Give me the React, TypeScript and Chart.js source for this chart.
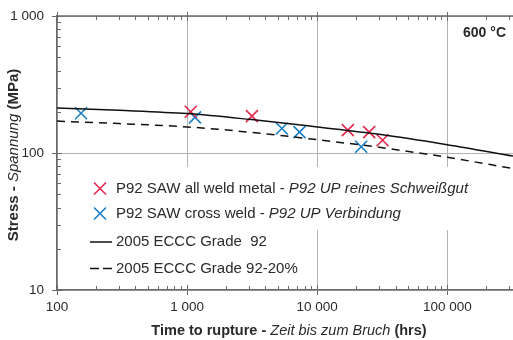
import React, { useEffect, useRef } from 'react';
import { Chart, registerables } from 'chart.js';

Chart.register(...registerables);

const FONT = "'Liberation Sans', Arial, Helvetica, sans-serif";

// ECCC curves (time in hours, stress in MPa)
const curveTimes = [100, 300, 1000, 3000, 10000, 30000, 100000, 320000];
const eccc92Stress = [213, 205, 194, 176, 155, 137, 115, 95];
const eccc92Minus20Stress = [171, 164, 155, 142, 125, 110, 93, 77];

// test data
const allWeldTimes = [1067, 3150, 17200, 25100, 31800];
const allWeldStress = [200, 186, 147, 142, 124];
const crossWeldTimes = [153, 1150, 5350, 7310, 21800];
const crossWeldStress = [195, 182, 151, 142, 111];

const xTickValues = [100, 1000, 10000, 100000];
const yTickValues = [10, 100, 1000];
const X_MIN = 100;
const X_MAX = 320000;
const Y_MIN = 10;
const Y_MAX = 1000;

const legendRow1 = ['P92 SAW all weld metal - ', 'P92 UP reines Schweißgut'];
const legendRow2 = ['P92 SAW cross weld - ', 'P92 UP Verbindung'];
const legendRow3 = '2005 ECCC Grade  92';
const legendRow4 = '2005 ECCC Grade 92-20%';
const xTitle = ['Time to rupture - ', 'Zeit bis zum Bruch', ' (hrs)'];
const yTitle = ['Stress - ', 'Spannung', ' (MPa)'];
const tempLabel = '600 °C';

const RED = '#e5264d';
const BLUE = '#1a7fc4';
const AXIS = '#6a6a6a';
const GRID = '#b4b4b4';
const TEXT = '#2a2a2a';

const fmt = (v: number) => String(v).replace(/\B(?=(\d{3})+(?!\d))/g, ' ');

type Seg = { text: string; font: string };

const segWidth = (ctx: CanvasRenderingContext2D, segs: Seg[]) =>
  segs.reduce((w, s) => {
    ctx.font = s.font;
    return w + ctx.measureText(s.text).width;
  }, 0);

const drawSegs = (ctx: CanvasRenderingContext2D, segs: Seg[], x: number, y: number) => {
  let cx = x;
  for (const s of segs) {
    ctx.font = s.font;
    ctx.fillText(s.text, cx, y);
    cx += ctx.measureText(s.text).width;
  }
};

const drawX = (ctx: CanvasRenderingContext2D, x: number, y: number, r: number, color: string) => {
  ctx.save();
  ctx.strokeStyle = color;
  ctx.lineWidth = 1.6;
  ctx.beginPath();
  ctx.moveTo(x - r, y - r);
  ctx.lineTo(x + r, y + r);
  ctx.moveTo(x + r, y - r);
  ctx.lineTo(x - r, y + r);
  ctx.stroke();
  ctx.restore();
};

const minorValues = (min: number, max: number) => {
  const out: number[] = [];
  for (let d = Math.pow(10, Math.floor(Math.log10(min))); d <= max; d *= 10) {
    for (let k = 2; k <= 9; k++) {
      const v = k * d;
      if (v > min && v < max) out.push(v);
    }
  }
  return out;
};

const decorPlugin = {
  id: 'decor',
  beforeDatasetsDraw(chart: any) {
    const { ctx, chartArea } = chart;
    const { left, bottom } = chartArea;
    ctx.save();
    ctx.fillStyle = '#ffffff';
    // legend backgrounds
    ctx.fillRect(left + 1, 167, 472 - left, 63);
    ctx.fillRect(left + 1, 229, 300 - left, bottom - 229 - 1);
    ctx.restore();
  },
  afterDraw(chart: any) {
    const { ctx, chartArea, scales } = chart;
    const { left, right, top, bottom } = chartArea;
    const xs = scales.x;
    const ys = scales.y;
    ctx.save();
    // top axis line
    ctx.strokeStyle = AXIS;
    ctx.lineWidth = 1.5;
    ctx.beginPath();
    ctx.moveTo(left, top);
    ctx.lineTo(right, top);
    ctx.stroke();

    ctx.lineWidth = 1;
    ctx.beginPath();
    // x minor ticks (bottom up, top down)
    for (const v of minorValues(X_MIN, X_MAX)) {
      const px = Math.round(xs.getPixelForValue(v)) + 0.5;
      ctx.moveTo(px, bottom);
      ctx.lineTo(px, bottom - 4);
      ctx.moveTo(px, top);
      ctx.lineTo(px, top + 4);
    }
    for (const v of xTickValues) {
      const px = Math.round(xs.getPixelForValue(v)) + 0.5;
      ctx.moveTo(px, bottom);
      ctx.lineTo(px, bottom - 5);
      ctx.moveTo(px, top - 4);
      ctx.lineTo(px, top + 5);
    }
    // y minor ticks (left axis, inward)
    for (const v of minorValues(Y_MIN, Y_MAX)) {
      const py = Math.round(ys.getPixelForValue(v)) + 0.5;
      ctx.moveTo(left, py);
      ctx.lineTo(left + 4, py);
    }
    for (const v of yTickValues) {
      const py = Math.round(ys.getPixelForValue(v)) + 0.5;
      ctx.moveTo(left, py);
      ctx.lineTo(left + 5, py);
    }
    ctx.stroke();

    // legend
    const reg = `15px ${FONT}`;
    const ital = `italic 15px ${FONT}`;
    ctx.fillStyle = TEXT;
    ctx.textBaseline = 'middle';
    ctx.textAlign = 'left';
    const tx = 116;
    const rows = [188.5, 213.5, 242, 268.5];
    drawX(ctx, 100, rows[0], 6, RED);
    drawSegs(ctx, [{ text: legendRow1[0], font: reg }, { text: legendRow1[1], font: ital }], tx, rows[0]);
    drawX(ctx, 100, rows[1], 6, BLUE);
    drawSegs(ctx, [{ text: legendRow2[0], font: reg }, { text: legendRow2[1], font: ital }], tx, rows[1]);
    ctx.strokeStyle = '#111';
    ctx.lineWidth = 1.5;
    ctx.beginPath();
    ctx.moveTo(90, rows[2]);
    ctx.lineTo(112, rows[2]);
    ctx.stroke();
    ctx.setLineDash([9, 4]);
    ctx.beginPath();
    ctx.moveTo(90, rows[3]);
    ctx.lineTo(112, rows[3]);
    ctx.stroke();
    ctx.setLineDash([]);
    drawSegs(ctx, [{ text: legendRow3, font: reg }], tx, rows[2]);
    drawSegs(ctx, [{ text: legendRow4, font: reg }], tx, rows[3]);

    // temperature label
    ctx.font = `bold 14px ${FONT}`;
    ctx.textAlign = 'right';
    ctx.fillText(tempLabel, 506, 33);
    ctx.textAlign = 'left';

    // axis titles
    const b = `bold 14.5px ${FONT}`;
    const it = `italic 14.5px ${FONT}`;
    const xsegs: Seg[] = [
      { text: xTitle[0], font: b },
      { text: xTitle[1], font: it },
      { text: xTitle[2], font: b },
    ];
    const xw = segWidth(ctx, xsegs);
    drawSegs(ctx, xsegs, (left + right) / 2 + 4 - xw / 2, 331);

    const by = `bold 15px ${FONT}`;
    const iy = `italic 15px ${FONT}`;
    const ysegs: Seg[] = [
      { text: yTitle[0], font: by },
      { text: yTitle[1], font: iy },
      { text: yTitle[2], font: by },
    ];
    const yw = segWidth(ctx, ysegs);
    ctx.translate(14, 155);
    ctx.rotate(-Math.PI / 2);
    drawSegs(ctx, ysegs, -yw / 2, 0);
    ctx.restore();
  },
};

export default function App() {
  const ref = useRef<HTMLCanvasElement | null>(null);

  useEffect(() => {
    document.body.style.margin = '0';
    const canvas = ref.current;
    if (!canvas) return;

    const curve = (ys: number[]) => curveTimes.map((t, i) => ({ x: t, y: ys[i] }));
    const pts = (xs: number[], ys: number[]) => xs.map((t, i) => ({ x: t, y: ys[i] }));

    const tickFont = { family: FONT, size: 13.5 };

    const chart = new Chart(canvas, {
      type: 'scatter',
      data: {
        datasets: [
          {
            label: legendRow3,
            data: curve(eccc92Stress),
            showLine: true,
            borderColor: '#111',
            borderWidth: 1.5,
            pointRadius: 0,
            cubicInterpolationMode: 'monotone',
          } as any,
          {
            label: legendRow4,
            data: curve(eccc92Minus20Stress),
            showLine: true,
            borderColor: '#111',
            borderWidth: 1.5,
            borderDash: [8, 6],
            pointRadius: 0,
            cubicInterpolationMode: 'monotone',
          } as any,
          {
            label: legendRow1.join(''),
            data: pts(allWeldTimes, allWeldStress),
            pointStyle: 'crossRot',
            pointRadius: 8.5,
            borderColor: RED,
            backgroundColor: RED,
            pointBorderWidth: 1.6,
          } as any,
          {
            label: legendRow2.join(''),
            data: pts(crossWeldTimes, crossWeldStress),
            pointStyle: 'crossRot',
            pointRadius: 8.5,
            borderColor: BLUE,
            backgroundColor: BLUE,
            pointBorderWidth: 1.6,
          } as any,
        ],
      },
      options: {
        responsive: false,
        animation: false,
        events: [],
        layout: { autoPadding: false, padding: { top: 16, right: 0, left: 0, bottom: 0 } },
        plugins: {
          legend: { display: false },
          tooltip: { enabled: false },
        },
        scales: {
          x: {
            type: 'logarithmic',
            min: X_MIN,
            max: X_MAX,
            afterBuildTicks: (s: any) => {
              s.ticks = xTickValues.map((v) => ({ value: v }));
            },
            afterFit: (s: any) => {
              s.height = 50;
              s.paddingLeft = 0;
              s.paddingRight = 0;
            },
            ticks: {
              callback: (v: any) => fmt(Number(v)),
              font: tickFont,
              color: TEXT,
              padding: 4,
              maxRotation: 0,
              autoSkip: false,
            },
            grid: { color: GRID, lineWidth: 1, tickLength: 5, tickColor: AXIS },
            border: { color: AXIS, width: 1.5 },
          },
          y: {
            type: 'logarithmic',
            min: Y_MIN,
            max: Y_MAX,
            afterBuildTicks: (s: any) => {
              s.ticks = yTickValues.map((v) => ({ value: v }));
            },
            afterFit: (s: any) => {
              s.width = 57;
              s.paddingTop = 0;
              s.paddingBottom = 0;
            },
            ticks: {
              callback: (v: any) => fmt(Number(v)),
              font: tickFont,
              color: TEXT,
              padding: 8,
              autoSkip: false,
            },
            grid: { color: GRID, lineWidth: 1, tickLength: 5, tickColor: AXIS },
            border: { color: AXIS, width: 1.5 },
          },
        },
      } as any,
      plugins: [decorPlugin],
    });

    return () => chart.destroy();
  }, []);

  return (
    <div style={{ width: 513, height: 340 }}>
      <canvas ref={ref} width={513} height={340} style={{ display: 'block' }} />
    </div>
  );
}
